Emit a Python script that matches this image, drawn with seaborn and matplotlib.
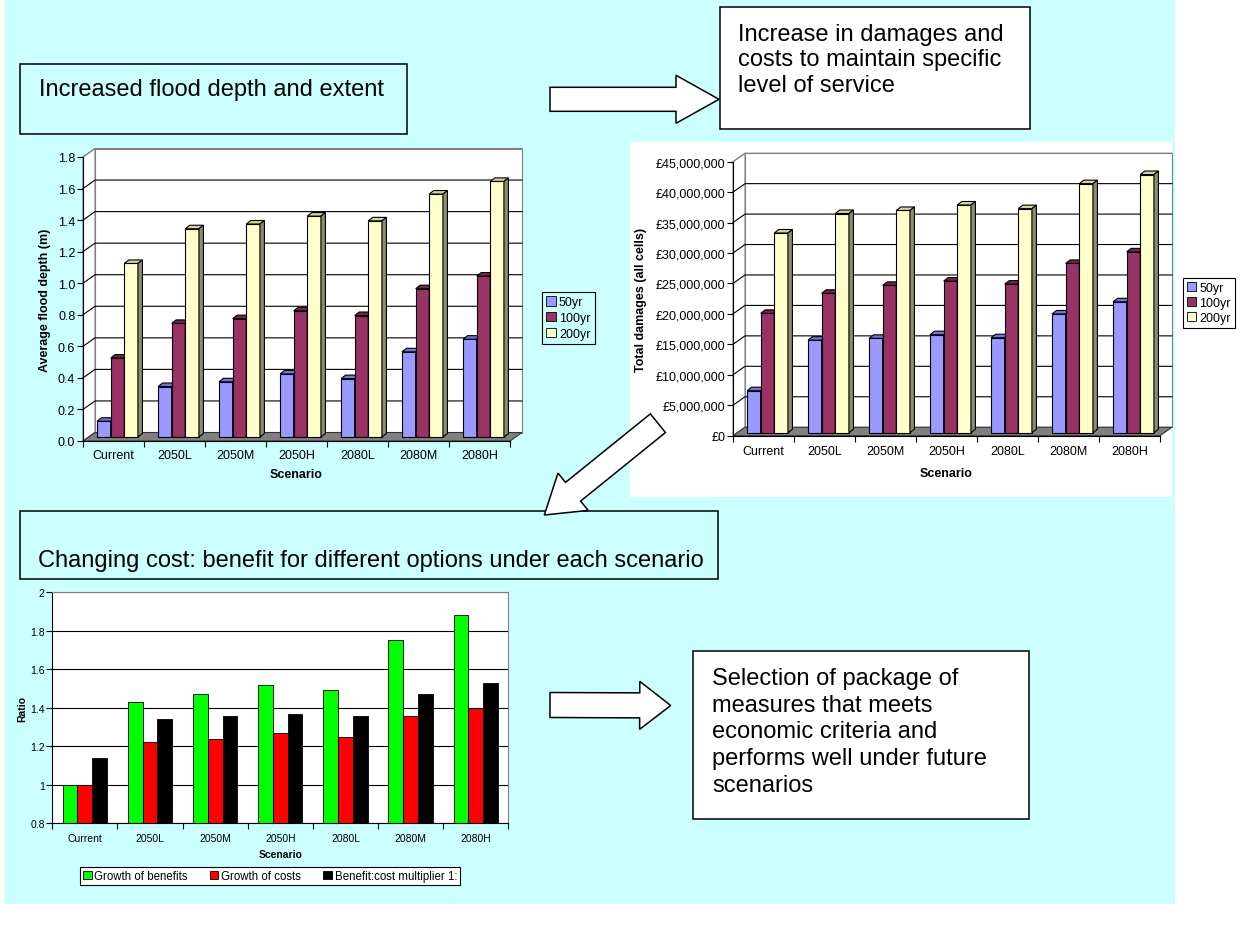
import numpy as np
import pandas as pd
import matplotlib
matplotlib.use("Agg")
import matplotlib.pyplot as plt
import seaborn as sns
from matplotlib import transforms as mtrans
from matplotlib.colors import to_rgba
from matplotlib.lines import Line2D
from matplotlib.patches import Patch, Polygon, Rectangle
from matplotlib.ticker import FuncFormatter

plt.rcParams["font.family"] = ["Liberation Sans", "DejaVu Sans"]

# ---------------------------------------------------------------- data
scenarios = ["Current", "2050L", "2050M", "2050H", "2080L", "2080M", "2080H"]
return_periods = ["50yr", "100yr", "200yr"]

depth_50yr = [0.10, 0.32, 0.35, 0.40, 0.37, 0.54, 0.62]
depth_100yr = [0.50, 0.72, 0.75, 0.80, 0.77, 0.94, 1.02]
depth_200yr = [1.10, 1.32, 1.35, 1.40, 1.37, 1.54, 1.62]

damages_50yr = [6.9e6, 15.2e6, 15.5e6, 16.1e6, 15.6e6, 19.5e6, 21.5e6]
damages_100yr = [19.6e6, 22.9e6, 24.2e6, 24.9e6, 24.4e6, 27.8e6, 29.7e6]
damages_200yr = [32.8e6, 36.0e6, 36.5e6, 37.4e6, 36.8e6, 40.9e6, 42.4e6]

ratio_series = ["Growth of benefits", "Growth of costs", "Benefit:cost multiplier 1:"]
growth_of_benefits = [1.00, 1.43, 1.47, 1.52, 1.49, 1.75, 1.88]
growth_of_costs = [1.00, 1.22, 1.24, 1.27, 1.25, 1.36, 1.40]
bc_multiplier = [1.14, 1.34, 1.36, 1.37, 1.36, 1.47, 1.53]

depth_ticks = [0.0, 0.2, 0.4, 0.6, 0.8, 1.0, 1.2, 1.4, 1.6, 1.8]
damage_ticks = [0, 5e6, 10e6, 15e6, 20e6, 25e6, 30e6, 35e6, 40e6, 45e6]
ratio_ticks = [0.8, 1.0, 1.2, 1.4, 1.6, 1.8, 2.0]


def long_frame(series, names):
    return pd.DataFrame({
        "Scenario": scenarios * len(names),
        "Series": np.repeat(names, len(scenarios)),
        "value": np.concatenate([np.asarray(s, float) for s in series]),
    })


depth_df = long_frame([depth_50yr, depth_100yr, depth_200yr], return_periods)
damage_df = long_frame([damages_50yr, damages_100yr, damages_200yr], return_periods)
ratio_df = long_frame([growth_of_benefits, growth_of_costs, bc_multiplier], ratio_series)

# ---------------------------------------------------------------- styling
W, H = 1245, 929
CYAN = "#CCFFFF"
FRONT = ["#9999FF", "#993366", "#FFFFCC"]
TOP = ["#7373D9", "#74264D", "#D2D2A4"]
SIDE = ["#5C5C99", "#5C1F3D", "#8C8C6E"]
RATIO_COLORS = ["#00FF00", "#FF0000", "#000000"]

fig = plt.figure(figsize=(W / 100, H / 100), dpi=100)
fig.patch.set_facecolor("white")
PX = mtrans.Affine2D().scale(1 / W, -1 / H).translate(0, 1) + fig.transFigure
IDENT = mtrans.IdentityTransform()


def axes_px(left, top, right, bottom):
    ax = fig.add_axes([left / W, 1 - bottom / H, (right - left) / W, (bottom - top) / H])
    ax.set_zorder(1)
    return ax


# slide background and the white chart area behind the damages chart
fig.add_artist(Rectangle((5, 0), 1170, 905, transform=PX, facecolor=CYAN,
                         edgecolor="none", zorder=-2))
fig.add_artist(Rectangle((630, 143), 542, 355, transform=PX, facecolor="white",
                         edgecolor="none", zorder=-1))


def column_chart_3d(ax, frame, ticks, fmt, ylabel, ylabel_x, size, xpad,
                    wall=(12.0, 8.5), shift=(4.0, 4.0), depth=(4.5, 3.5)):
    bars_before = len(ax.patches)
    sns.barplot(data=frame, x="Scenario", y="value", hue="Series", order=scenarios,
                hue_order=return_periods, palette=FRONT, width=0.67, saturation=1,
                edgecolor="black", linewidth=0.8, legend=False, ax=ax)
    bars = list(ax.patches)[bars_before:]
    n = len(scenarios)
    ymax = ticks[-1]
    ax.set_xlim(-0.5, n - 0.5)
    ax.set_ylim(0, ymax)
    ax.set_facecolor("none")
    for s in ("top", "right"):
        ax.spines[s].set_visible(False)
    for s in ("left", "bottom"):
        ax.spines[s].set_color("black")
        ax.spines[s].set_linewidth(0.8)
        ax.spines[s].set_zorder(2.5)

    ax.set_yticks(ticks)
    ax.yaxis.set_major_formatter(FuncFormatter(fmt))
    ax.set_xticks(range(n))
    ax.set_xticklabels(scenarios)
    ax.set_xticks(np.arange(-0.5, n, 1.0), minor=True)
    ax.tick_params(axis="x", which="major", length=0, pad=xpad, labelsize=size)
    ax.tick_params(axis="x", which="minor", bottom=True, length=4, width=0.8,
                   color="black", direction="out")
    ax.tick_params(axis="y", left=True, length=4, width=0.8, color="black",
                   direction="out", pad=1.5, labelsize=size)
    ax.set_xlabel("Scenario", fontweight="bold", fontsize=size)
    ax.set_ylabel(ylabel, fontweight="bold", fontsize=size)
    ax.yaxis.set_label_coords(ylabel_x, 0.5)
    ax.yaxis.label.set_va("center")

    T = ax.transData
    wx, wy = wall

    def pt(x, y, dx=0.0, dy=0.0):
        X, Y = T.transform((x, y))
        return (X + dx, Y + dy)

    x0, x1 = -0.5, n - 0.5
    common = dict(transform=IDENT, clip_on=False, closed=True)
    # back wall, side wall and floor
    ax.add_patch(Polygon([pt(x0, 0, wx, wy), pt(x1, 0, wx, wy), pt(x1, ymax, wx, wy),
                          pt(x0, ymax, wx, wy)], facecolor="white", edgecolor="#808080",
                         lw=0.8, zorder=0.5, **common))
    ax.add_patch(Polygon([pt(x0, 0), pt(x0, 0, wx, wy), pt(x0, ymax, wx, wy), pt(x0, ymax)],
                         facecolor="white", edgecolor="#808080", lw=0.8, zorder=0.55, **common))
    ax.add_patch(Polygon([pt(x0, 0), pt(x1, 0), pt(x1, 0, wx, wy), pt(x0, 0, wx, wy)],
                         facecolor="#808080", edgecolor="#333333", lw=0.8, zorder=0.6, **common))
    for v in ticks[1:]:
        a, b, c = pt(x0, v), pt(x0, v, wx, wy), pt(x1, v, wx, wy)
        colour = "#808080" if v == ymax else "black"
        ax.add_line(Line2D([a[0], b[0], c[0]], [a[1], b[1], c[1]], transform=IDENT,
                           color=colour, lw=0.8, zorder=0.7, clip_on=False))

    # columns: shifted front face plus top and side faces
    sx, sy = shift
    dx, dy = depth
    moved = mtrans.offset_copy(T, fig=fig, x=sx, y=sy, units="dots")
    front_rgba = [np.array(to_rgba(c)) for c in FRONT]
    for p in bars:
        k = int(np.argmin([np.abs(np.array(p.get_facecolor()) - c).sum() for c in front_rgba]))
        xa, w, h = p.get_x(), p.get_width(), p.get_height()
        X0, Y0 = pt(xa, 0, sx, sy)
        X1, Y1 = pt(xa + w, h, sx, sy)
        z = 3 + X0 * 1e-4
        p.set_transform(moved)
        p.set_clip_on(False)
        p.set_zorder(z)
        ax.add_patch(Polygon([(X0, Y1), (X1, Y1), (X1 + dx, Y1 + dy), (X0 + dx, Y1 + dy)],
                             facecolor=TOP[k], edgecolor="black", lw=0.8, zorder=z, **common))
        ax.add_patch(Polygon([(X1, Y0), (X1 + dx, Y0 + dy), (X1 + dx, Y1 + dy), (X1, Y1)],
                             facecolor=SIDE[k], edgecolor="black", lw=0.8, zorder=z, **common))


def box_legend(labels, colors, left, top, face, size, ncol=1, **kw):
    handles = [Patch(facecolor=c, edgecolor="black", linewidth=0.6) for c in colors]
    leg = fig.legend(handles, labels, loc="upper left", bbox_to_anchor=(left / W, 1 - top / H),
                     ncol=ncol, frameon=True, fancybox=False, framealpha=1, facecolor=face,
                     edgecolor="black", fontsize=size, borderaxespad=0, handlelength=0.75,
                     handleheight=0.75, handletextpad=0.25, **kw)
    leg.get_frame().set_linewidth(0.8)
    return leg


# ---------------------------------------------------------------- chart: average flood depth
ax1 = axes_px(83, 158, 510, 442)
column_chart_3d(ax1, depth_df, depth_ticks, lambda v, _: f"{v:.1f}",
                "Average flood depth (m)", -0.089, 9, 5.5)
ax1.xaxis.set_label_coords(0.5, -0.115)
ax1.xaxis.label.set_va("center")
box_legend(return_periods, FRONT, 542, 293, CYAN, 9, borderpad=0.35, labelspacing=0.3)

# ---------------------------------------------------------------- chart: total damages
ax2 = axes_px(733, 162.7, 1160, 436.7)
column_chart_3d(ax2, damage_df, damage_ticks, lambda v, _: f"£{v:,.0f}",
                "Total damages (all cells)", -0.215, 9, 7.0, shift=(4.0, 3.0))
ax2.xaxis.set_label_coords(0.5, -0.137)
ax2.xaxis.label.set_va("center")
box_legend(return_periods, FRONT, 1183, 279, "white", 9, borderpad=0.3, labelspacing=0.25)

# ---------------------------------------------------------------- chart: cost / benefit ratios
ax3 = axes_px(52.3, 593.3, 508.3, 824.3)
sns.barplot(data=ratio_df, x="Scenario", y="value", hue="Series", order=scenarios,
            hue_order=ratio_series, palette=RATIO_COLORS, width=0.68, saturation=1,
            edgecolor="black", linewidth=0.6, legend=False, ax=ax3)
ax3.set_xlim(-0.5, len(scenarios) - 0.5)
ax3.set_ylim(ratio_ticks[0], ratio_ticks[-1])
ax3.set_facecolor("white")
ax3.set_yticks(ratio_ticks)
ax3.yaxis.set_major_formatter(FuncFormatter(lambda v, _: f"{v:g}"))
ax3.yaxis.grid(True, color="black", lw=0.8)
ax3.set_axisbelow(True)
ax3.set_xticks(range(len(scenarios)))
ax3.set_xticklabels(scenarios)
ax3.set_xticks(np.arange(-0.5, len(scenarios), 1.0), minor=True)
ax3.tick_params(axis="x", which="major", length=0, pad=7, labelsize=7.5)
ax3.tick_params(axis="x", which="minor", bottom=True, length=4, width=0.8, color="black")
ax3.tick_params(axis="y", left=True, length=4, width=0.8, color="black", pad=1.5, labelsize=7.5)
for s in ("left", "bottom"):
    ax3.spines[s].set_color("black")
    ax3.spines[s].set_linewidth(0.8)
for s in ("top", "right"):
    ax3.spines[s].set_color("#808080")
    ax3.spines[s].set_linewidth(0.8)
ax3.set_xlabel("Scenario", fontweight="bold", fontsize=7.5)
ax3.set_ylabel("Ratio", fontweight="bold", fontsize=7.5)
ax3.xaxis.set_label_coords(0.5, -0.133)
ax3.xaxis.label.set_va("center")
ax3.yaxis.set_label_coords(-0.066, 0.5)
ax3.yaxis.label.set_va("center")
box_legend(ratio_series, RATIO_COLORS, 80, 868, "white", 8.3, ncol=3, borderpad=0.25,
           columnspacing=1.9)

# ---------------------------------------------------------------- text boxes and arrows


def text_box(left, top, right, bottom, face, lines, x, ys, size=17):
    fig.add_artist(Rectangle((left, top), right - left, bottom - top, transform=PX,
                             facecolor=face, edgecolor="black", lw=1.1, zorder=4))
    for line, y in zip(lines, ys):
        fig.text(x, y, line, transform=PX, ha="left", va="center", fontsize=size, zorder=5)


def block_arrow(tail, tip, half_shaft, half_head, head_len):
    tail, tip = np.asarray(tail, float), np.asarray(tip, float)
    u = (tip - tail) / np.hypot(*(tip - tail))
    nrm = np.array([-u[1], u[0]])
    neck = tip - u * head_len
    pts = [tail + nrm * half_shaft, neck + nrm * half_shaft, neck + nrm * half_head, tip,
           neck - nrm * half_head, neck - nrm * half_shaft, tail - nrm * half_shaft]
    fig.add_artist(Polygon(pts, closed=True, transform=PX, facecolor="white",
                           edgecolor="black", lw=1.1, zorder=4.5))


text_box(20, 65, 407, 135, CYAN, ["Increased flood depth and extent"], 39, [90])
text_box(720, 8, 1030, 130, "white",
         ["Increase in damages and", "costs to maintain specific", "level of service"],
         738, [35, 60, 86])
text_box(20, 512, 718, 580, CYAN,
         ["Changing cost: benefit for different options under each scenario"], 38, [561])
text_box(693, 652, 1029, 820, "white",
         ["Selection of package of", "measures that meets", "economic criteria and",
          "performs well under future", "scenarios"],
         712, [679, 706, 732, 759, 786])

block_arrow((550, 100.3), (719, 100.3), 12, 24, 43)
block_arrow((657.9, 424.2), (544.3, 516), 12, 24, 37)
block_arrow((550, 706), (670.7, 706.5), 12.5, 24, 31)

fig.savefig("out.png", dpi=100)
